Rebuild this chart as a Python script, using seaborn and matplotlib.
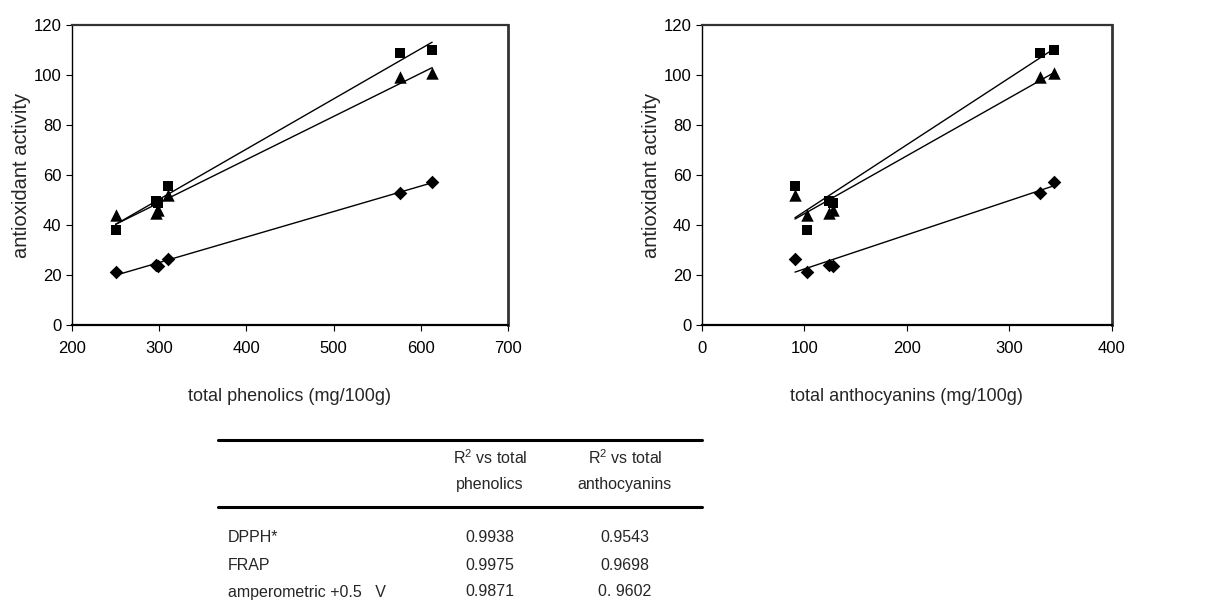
import matplotlib
matplotlib.use("Agg")
import matplotlib.pyplot as plt
import seaborn as sns
import numpy as np
import pandas as pd
from matplotlib.lines import Line2D

# ---- data ----
phenolics = [250, 296, 299, 310, 576, 613]
anthocyanins = [103, 124, 128, 91, 330, 344]
squares = [38.0, 49.6, 49.0, 55.6, 108.7, 110.0]
triangles = [44.0, 45.0, 46.0, 52.0, 99.3, 101.0]
diamonds = [21.3, 24.0, 23.5, 26.4, 52.9, 57.3]

row_labels = ["DPPH*", "FRAP", "amperometric +0.5   V"]
r2_phenolics = ["0.9938", "0.9975", "0.9871"]
r2_anthocyanins = ["0.9543", "0.9698", "0. 9602"]

sns.set_style("white")
plt.rcParams['font.family'] = ['Liberation Sans', 'DejaVu Sans']
plt.rcParams['mathtext.fontset'] = 'custom'
plt.rcParams['mathtext.rm'] = 'Liberation Sans'
plt.rcParams['mathtext.it'] = 'Liberation Sans'

df = pd.DataFrame({"phen": phenolics, "anth": anthocyanins,
                   "sq": squares, "tri": triangles, "dia": diamonds})

W, H = 1214, 600
fig = plt.figure(figsize=(W / 100, H / 100), dpi=100)

ax1 = fig.add_axes([72 / W, 1 - 325 / H, 436 / W, 300 / H])
ax2 = fig.add_axes([701.7 / W, 1 - 325 / H, 410 / W, 300 / H])

series = [("sq", "s", 58), ("tri", "^", 80), ("dia", "D", 48)]

for ax, xcol, xlim, xticks, xlabel in [
        (ax1, "phen", (200, 700), range(200, 701, 100), "total phenolics (mg/100g)"),
        (ax2, "anth", (0, 400), range(0, 401, 100), "total anthocyanins (mg/100g)")]:
    for col, mk, s in series:
        sns.regplot(data=df, x=xcol, y=col, ax=ax, ci=None, marker=mk,
                    color="black",
                    scatter_kws=dict(s=s, color="black", linewidths=0,
                                     alpha=1, zorder=3),
                    line_kws=dict(color="black", lw=1.0, zorder=2))
    ax.set_xlim(*xlim)
    ax.set_ylim(0, 120)
    ax.set_xticks(list(xticks))
    ax.set_yticks(range(0, 121, 20))
    ax.tick_params(axis="both", direction="out", length=4.5, width=0.8,
                   labelsize=12, colors="black", bottom=True, left=True)
    ax.tick_params(axis="x", pad=7)
    ax.tick_params(axis="y", pad=3)
    ax.set_xlabel(xlabel, fontsize=13, labelpad=23)
    ax.set_ylabel("antioxidant activity", fontsize=14.5, labelpad=2)
    for side in ["left", "bottom", "top", "right"]:
        ax.spines[side].set_visible(True)
    ax.spines["left"].set_color("black")
    ax.spines["left"].set_linewidth(1.0)
    ax.spines["bottom"].set_color("black")
    ax.spines["bottom"].set_linewidth(1.6)
    ax.spines["top"].set_color("#333333")
    ax.spines["top"].set_linewidth(1.6)
    ax.spines["right"].set_color("#333333")
    ax.spines["right"].set_linewidth(2.0)

# ---- table ----
def fx(px):
    return px / W

def fy(py):
    return 1 - py / H

for yline in (440, 507):
    fig.add_artist(Line2D([fx(218), fx(702)], [fy(yline), fy(yline)],
                          color="black", lw=2.2, transform=fig.transFigure))

col1, col2 = 490, 625
fs = 11.5
fig.text(fx(col1), fy(458), r"R$^{2}$ vs total", ha="center", va="center", fontsize=fs)
fig.text(fx(col1), fy(485), "phenolics", ha="center", va="center", fontsize=fs)
fig.text(fx(col2), fy(458), r"R$^{2}$ vs total", ha="center", va="center", fontsize=fs)
fig.text(fx(col2), fy(485), "anthocyanins", ha="center", va="center", fontsize=fs)

row_y = [538, 565, 592]
for lab, a, b, yy in zip(row_labels, r2_phenolics, r2_anthocyanins, row_y):
    fig.text(fx(228), fy(yy), lab, ha="left", va="center", fontsize=fs)
    fig.text(fx(col1), fy(yy), a, ha="center", va="center", fontsize=fs)
    fig.text(fx(col2), fy(yy), b, ha="center", va="center", fontsize=fs)

fig.savefig("out.png", dpi=100, facecolor="white")
